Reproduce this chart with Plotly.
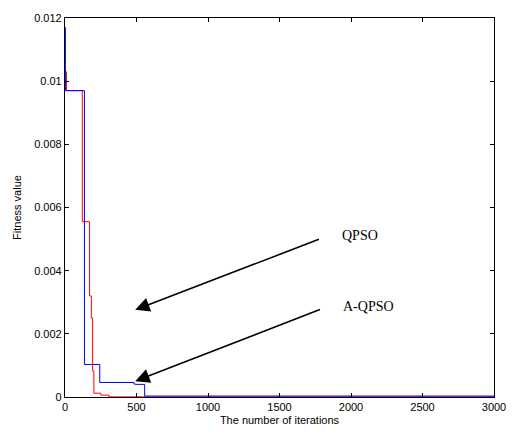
import plotly.graph_objects as go

# A-QPSO (blue) convergence: iteration of each step and value held from there
aqpso_iter = [0, 3, 136, 243, 482, 493, 557, 3000]
aqpso_val = [0.0117, 0.0097, 0.00103, 0.00046, 0.00041, 0.00040, 0.00003, 0.00003]

# QPSO (red) convergence
qpso_iter = [0, 10, 121, 172, 184, 193, 202, 250, 307, 3000]
qpso_val = [0.0103, 0.0097, 0.00555, 0.0032, 0.0025, 0.00082, 0.00012, 0.00006, 0.000005, 0.000005]

x_ticks = [0, 500, 1000, 1500, 2000, 2500, 3000]
y_ticks = [0, 0.002, 0.004, 0.006, 0.008, 0.01, 0.012]
y_tick_text = ["0", "0.002", "0.004", "0.006", "0.008", "0.01", "0.012"]

# annotations: label, label position, arrow tail, arrow tip
labels = ["QPSO", "A-QPSO"]
label_pos = [(1923, 0.00511), (1930, 0.00288)]
arrow_tail = [(1786, 0.00501), (1793, 0.00279)]
arrow_tip = [(491, 0.00276), (491, 0.00050)]

fig = go.Figure()
fig.add_trace(go.Scatter(x=qpso_iter, y=qpso_val, mode="lines",
                         line=dict(color="#ff0000", width=1, shape="hv"), name="QPSO"))
fig.add_trace(go.Scatter(x=aqpso_iter, y=aqpso_val, mode="lines",
                         line=dict(color="#0000ff", width=1, shape="hv"), name="A-QPSO"))

for lab, (lx, ly), (tx, ty), (hx, hy) in zip(labels, label_pos, arrow_tail, arrow_tip):
    fig.add_annotation(x=hx, y=hy, ax=tx, ay=ty, xref="x", yref="y", axref="x", ayref="y",
                       text="", showarrow=True, arrowhead=2, arrowsize=1.8, arrowwidth=1.6,
                       arrowcolor="black", standoff=0)
    fig.add_annotation(x=lx, y=ly, xref="x", yref="y", text=lab, showarrow=False,
                       xanchor="left", yanchor="middle",
                       font=dict(family="Liberation Serif, Times New Roman, serif", size=14, color="black"))

axis_common = dict(showline=True, linecolor="black", linewidth=1.2, mirror="ticks",
                   ticks="inside", ticklen=4, tickcolor="black", showgrid=False, zeroline=False,
                   tickfont=dict(family="Liberation Sans, Arial, sans-serif", size=11, color="black"))

fig.update_xaxes(range=[0, 3000], tickvals=x_ticks, **axis_common,
                 title=dict(text="The number of iterations", standoff=4,
                            font=dict(family="Liberation Sans, Arial, sans-serif", size=11, color="black")))
fig.update_yaxes(range=[0, 0.012], tickvals=y_ticks, ticktext=y_tick_text, **axis_common,
                 title=dict(text="Fitness value", standoff=10,
                            font=dict(family="Liberation Sans, Arial, sans-serif", size=11, color="black")))

fig.update_layout(width=518, height=437, margin=dict(l=65, r=13, t=15, b=39),
                  plot_bgcolor="white", paper_bgcolor="white", showlegend=False)

fig.write_html("out.html")
